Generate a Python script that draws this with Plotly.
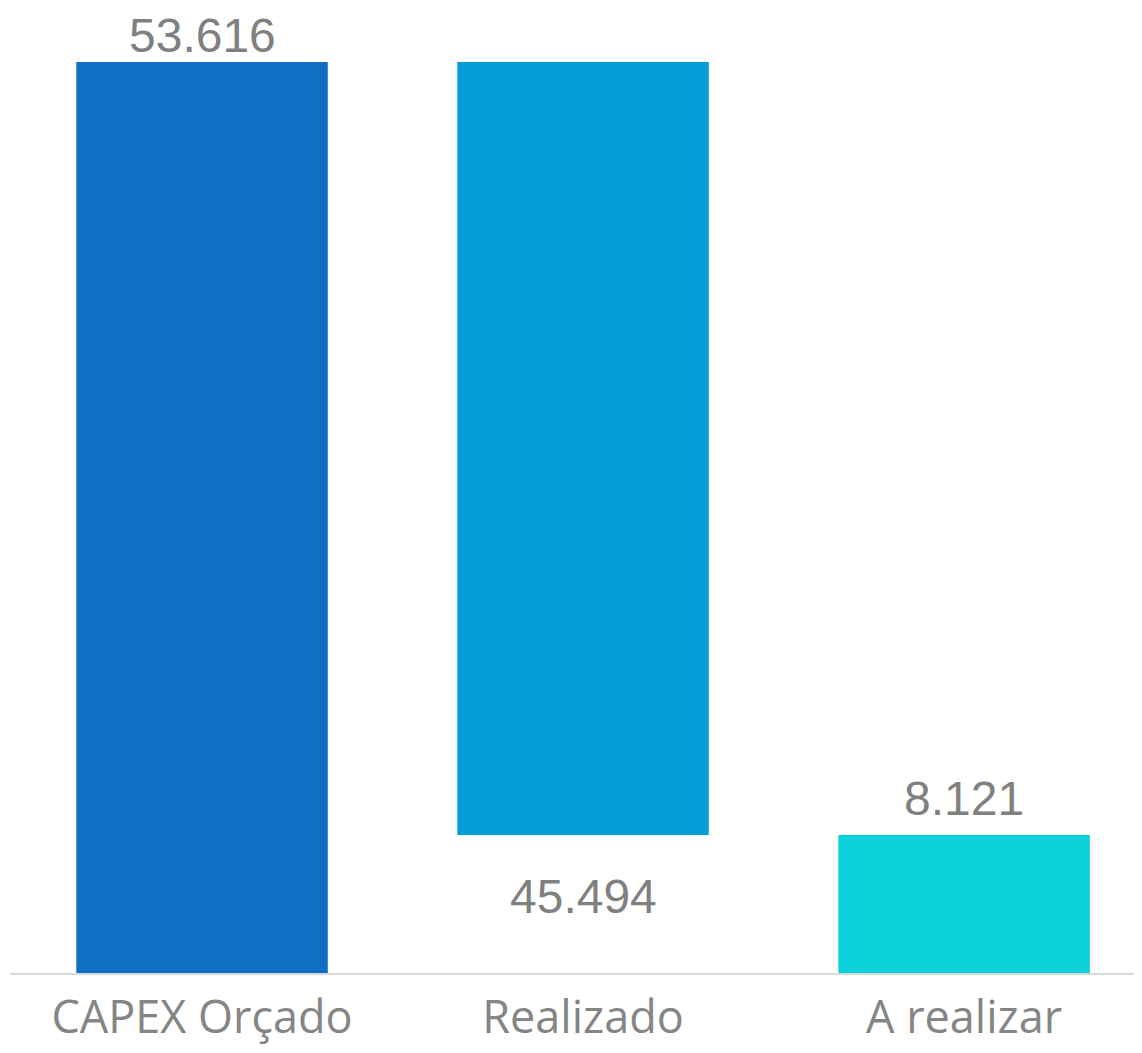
import plotly.graph_objects as go

categories = ["CAPEX Orçado", "Realizado", "A realizar"]
capex_orcado = 53616
realizado = 45494
a_realizar = 8121
value_labels = ["53.616", "45.494", "8.121"]

heights = [capex_orcado, realizado, a_realizar]
bases = [0, capex_orcado - realizado, 0]
colors = ["#106EC5", "#039DDA", "#0BCFD9"]

fig = go.Figure()
fig.add_trace(go.Bar(
    x=categories, y=heights, base=bases,
    marker=dict(color=colors, line=dict(width=0)),
    width=0.66, hoverinfo="skip", showlegend=False,
))

label_font = dict(family="Liberation Sans, Arial, sans-serif", size=48, color="#808080")
# label above first bar, below the floating bar, above the last bar
ann_y = [capex_orcado, capex_orcado - realizado, a_realizar]
shifts = [27, -61, 37]
for cat, y, txt, s in zip(categories, ann_y, value_labels, shifts):
    fig.add_annotation(x=cat, y=y, text=txt, showarrow=False, yanchor="middle",
                       xanchor="center", yshift=s, font=label_font)

fig.update_layout(
    width=1126, height=1037,
    margin=dict(l=2, r=0, t=0, b=72, autoexpand=False),
    plot_bgcolor="white", paper_bgcolor="white",
    xaxis=dict(range=[-0.504, 2.446], showgrid=False, showline=True,
               linecolor="#D9D9D9", linewidth=2, ticks="",
               ticklabelstandoff=4,
               tickfont=dict(family="Open Sans, Noto Sans, sans-serif", size=45, color="#858585")),
    yaxis=dict(range=[0, 56795], visible=False, showgrid=False, zeroline=False),
)

fig.write_html("out.html")
